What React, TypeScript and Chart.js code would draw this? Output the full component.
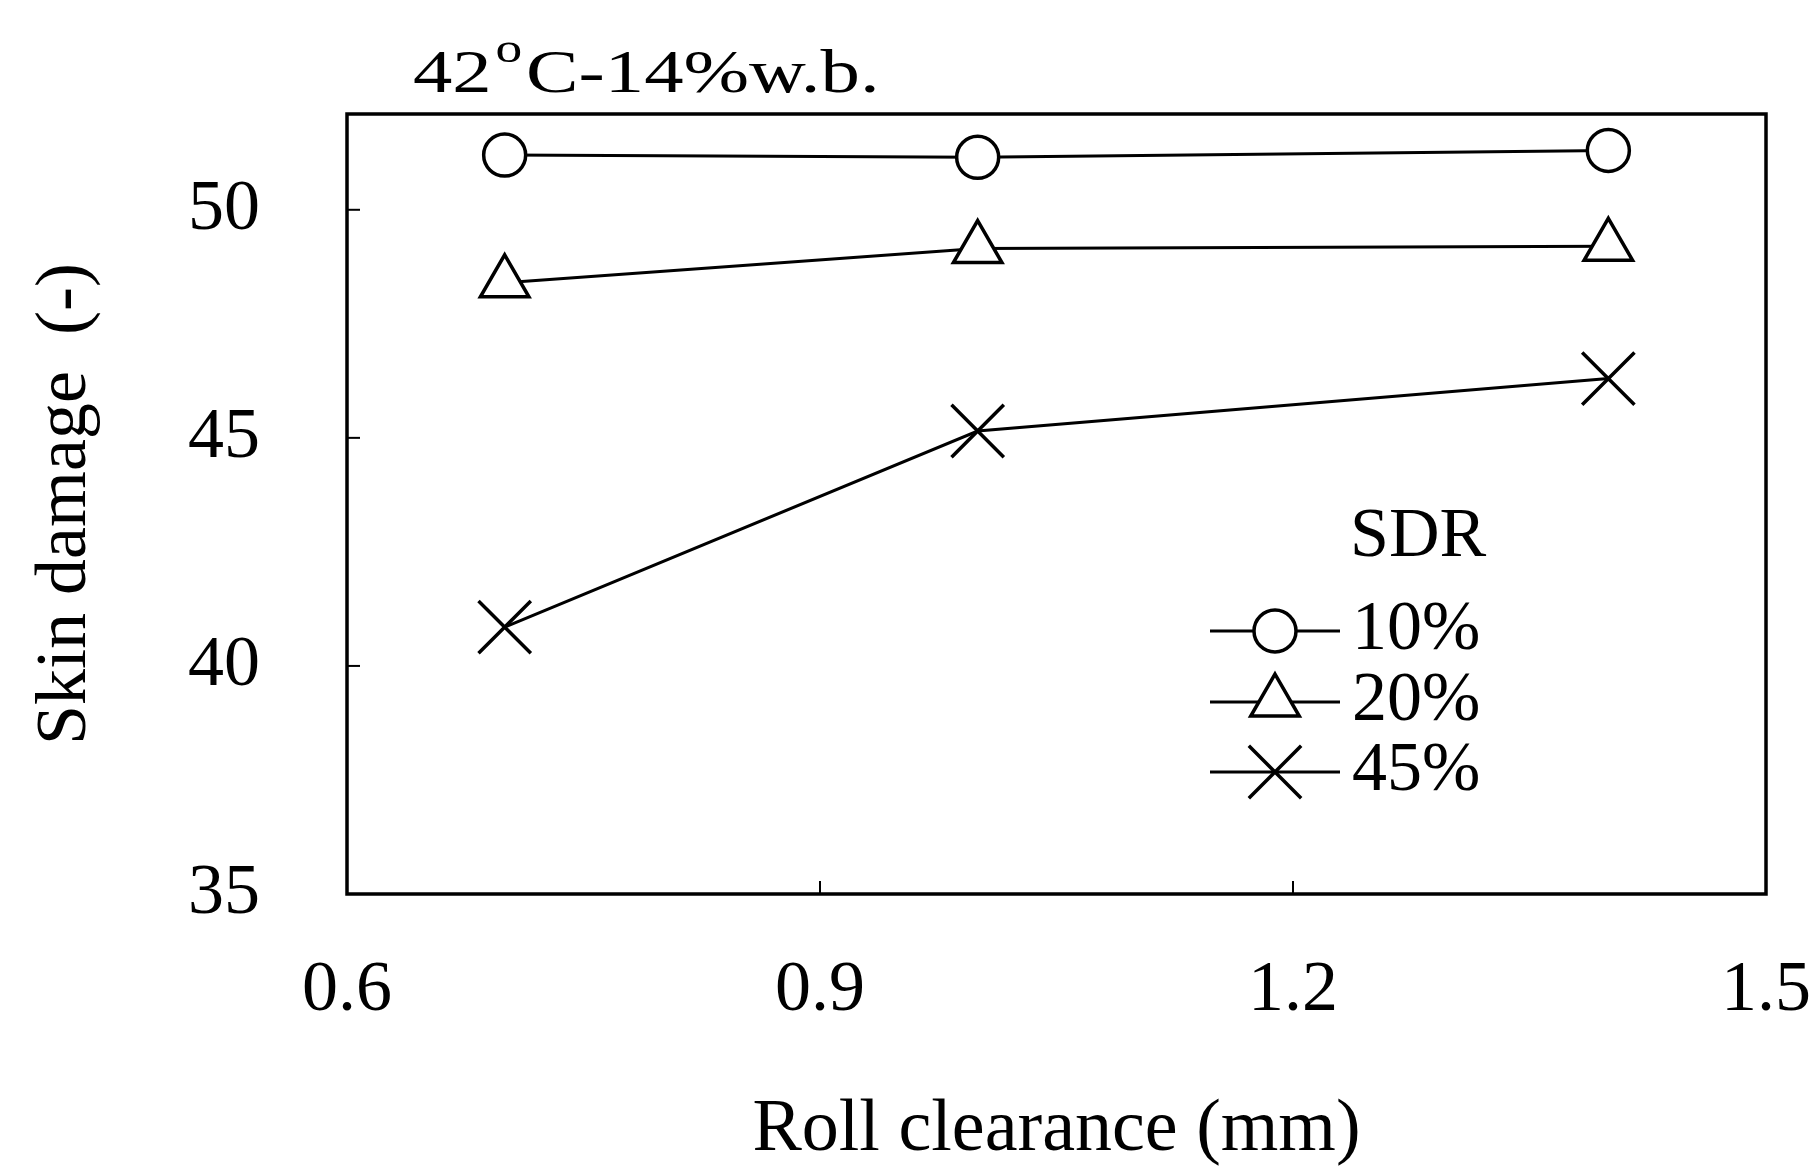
import React, { useEffect, useRef } from "react";
import { Chart, registerables } from "chart.js";

Chart.register(...registerables);

// ---- data ----
const rollClearance = [0.7, 1.0, 1.4];
const sdr10 = [51.2, 51.15, 51.3];
const sdr20 = [48.4, 49.15, 49.2];
const sdr45 = [40.85, 45.15, 46.3];
const seriesLabels = ["10%", "20%", "45%"];
const pointStyles = ["circle", "triangle", "crossRot"];
const xTickValues = [0.6, 0.9, 1.2, 1.5];
const yTickValues = [35, 40, 45, 50];
const titleMain = "42";
const titleSup = "o";
const titleRest = "C-14%w.b.";
const legendTitle = "SDR";
const xAxisTitle = "Roll clearance (mm)";
const yAxisTitle = "Skin damage  (-)";

const FONT = '"Liberation Serif", "Times New Roman", serif';
const radii = [21, 28, 37];

function drawMarker(ctx: CanvasRenderingContext2D, style: string, x: number, y: number, r: number) {
  ctx.beginPath();
  if (style === "circle") {
    ctx.arc(x, y, r, 0, Math.PI * 2);
    ctx.fill();
    ctx.stroke();
  } else if (style === "triangle") {
    const w = r * Math.sin((2 * Math.PI) / 3);
    ctx.moveTo(x, y - r);
    ctx.lineTo(x + w, y + r / 2);
    ctx.lineTo(x - w, y + r / 2);
    ctx.closePath();
    ctx.fill();
    ctx.stroke();
  } else {
    const o = r * Math.SQRT1_2;
    ctx.moveTo(x - o, y - o);
    ctx.lineTo(x + o, y + o);
    ctx.moveTo(x + o, y - o);
    ctx.lineTo(x - o, y + o);
    ctx.stroke();
  }
}

const framePlugin = {
  id: "frame",
  beforeDatasetsDraw(chart: any) {
    const { ctx, chartArea } = chart;
    const { left, right, top, bottom } = chartArea;
    ctx.save();
    ctx.strokeStyle = "#000";
    ctx.lineWidth = 3.5;
    ctx.strokeRect(left, top, right - left, bottom - top);
    ctx.lineWidth = 2;
    const ys = chart.scales.y;
    yTickValues.forEach((v) => {
      const p = ys.getPixelForValue(v);
      ctx.beginPath();
      ctx.moveTo(left, p);
      ctx.lineTo(left + 13, p);
      ctx.stroke();
    });
    const xs = chart.scales.x;
    xTickValues.forEach((v) => {
      const p = xs.getPixelForValue(v);
      ctx.beginPath();
      ctx.moveTo(p, bottom);
      ctx.lineTo(p, bottom - 13);
      ctx.stroke();
    });
    ctx.restore();
  },
  afterDraw(chart: any) {
    const { ctx, chartArea } = chart;
    ctx.save();
    ctx.fillStyle = "#000";
    ctx.textBaseline = "alphabetic";
    ctx.textAlign = "left";
    // title (widened, like the scanned original)
    const sx = 1.27;
    ctx.save();
    ctx.translate(chartArea.left + 66, 92);
    ctx.scale(sx, 1);
    let tx = 0;
    ctx.font = `62px ${FONT}`;
    ctx.fillText(titleMain, tx, 0);
    tx += ctx.measureText(titleMain).width + 3;
    ctx.font = `42px ${FONT}`;
    ctx.fillText(titleSup, tx, -30);
    tx += ctx.measureText(titleSup).width + 3;
    ctx.font = `62px ${FONT}`;
    ctx.fillText(titleRest, tx, 0);
    ctx.restore();

    // legend
    const lx0 = chartArea.right - 556;
    const lx1 = chartArea.right - 426;
    const textX = chartArea.right - 414;
    ctx.font = `70px ${FONT}`;
    ctx.textBaseline = "middle";
    ctx.fillText(legendTitle, textX - 2, chartArea.top + 424);
    const rowY = [chartArea.top + 517, chartArea.top + 588, chartArea.top + 658];
    seriesLabels.forEach((lab, i) => {
      const y = rowY[i];
      ctx.strokeStyle = "#000";
      ctx.lineWidth = 3;
      ctx.beginPath();
      ctx.moveTo(lx0, y);
      ctx.lineTo(lx1, y);
      ctx.stroke();
      ctx.fillStyle = "#fff";
      ctx.lineWidth = 3.5;
      drawMarker(ctx, pointStyles[i], (lx0 + lx1) / 2, y, radii[i]);
      ctx.fillStyle = "#000";
      ctx.fillText(lab, textX, y);
    });
    ctx.restore();
  },
};

export default function App() {
  const ref = useRef<HTMLCanvasElement>(null);
  useEffect(() => {
    document.body.style.margin = "0";
    const series = [sdr10, sdr20, sdr45];
    const chart = new Chart(ref.current as HTMLCanvasElement, {
      type: "scatter",
      data: {
        datasets: series.map((vals, i) => ({
          label: seriesLabels[i],
          data: rollClearance.map((x, j) => ({ x, y: vals[j] })),
          showLine: true,
          borderColor: "#000",
          borderWidth: 3,
          pointStyle: pointStyles[i] as any,
          pointRadius: radii[i],
          pointBorderWidth: 3.5,
          pointBorderColor: "#000",
          pointBackgroundColor: "#fff",
          backgroundColor: "#fff",
        })),
      },
      options: {
        animation: false,
        responsive: true,
        maintainAspectRatio: false,
        layout: { padding: { top: 114, right: 0, left: 0, bottom: 0 } },
        plugins: {
          legend: { display: false },
          tooltip: { enabled: false },
          title: { display: false },
        },
        scales: {
          x: {
            type: "linear",
            min: 0.6,
            max: 1.5,
            grid: { display: false },
            border: { display: false },
            afterBuildTicks: (s: any) => {
              s.ticks = xTickValues.map((v) => ({ value: v }));
            },
            afterFit: (s: any) => {
              s.height = 274;
              s.paddingRight = 48;
            },
            ticks: {
              callback: (v: any) => Number(v).toFixed(1),
              font: { family: FONT, size: 72 },
              color: "#000",
              padding: 46,
              maxRotation: 0,
              autoSkip: false,
            },
            title: {
              display: true,
              text: xAxisTitle,
              font: { family: FONT, size: 74, lineHeight: 1 },
              color: "#000",
              padding: { top: 0, bottom: 0 },
            },
          },
          y: {
            type: "linear",
            min: 35,
            max: 52.1,
            grid: { display: false },
            border: { display: false },
            afterBuildTicks: (s: any) => {
              s.ticks = yTickValues.map((v) => ({ value: v }));
            },
            afterFit: (s: any) => {
              s.width = 347;
              s.paddingTop = 0;
              s.paddingBottom = 0;
            },
            ticks: {
              font: { family: FONT, size: 72 },
              color: "#000",
              padding: 79,
              autoSkip: false,
            },
            title: {
              display: true,
              text: yAxisTitle,
              font: { family: FONT, size: 72, lineHeight: 1 },
              color: "#000",
              padding: { top: 30, bottom: 0 },
            },
          },
        },
      },
      plugins: [framePlugin],
    } as any);
    return () => chart.destroy();
  }, []);
  return (
    <div style={{ width: 1814, height: 1168, position: "relative" }}>
      <canvas ref={ref} />
    </div>
  );
}
